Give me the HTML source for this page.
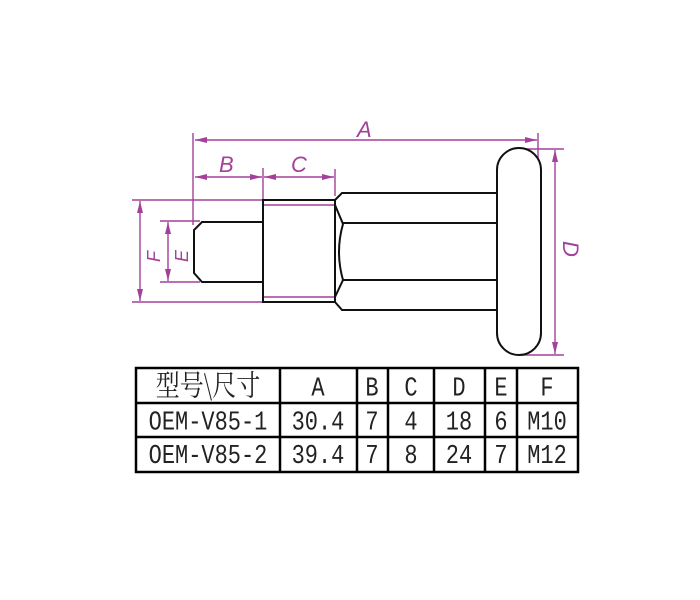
<!DOCTYPE html>
<html><head><meta charset="utf-8"><style>
html,body{margin:0;padding:0;background:#fff;}
svg{display:block;}
</style></head><body>
<svg width="700" height="600" viewBox="0 0 700 600" xmlns="http://www.w3.org/2000/svg">
<defs>
<marker id="ar" markerWidth="12" markerHeight="6" refX="12" refY="3" orient="auto-start-reverse" markerUnits="userSpaceOnUse">
<path d="M0,0 L12,3 L0,6 Z" fill="#a3409a"/>
</marker>
</defs>
<g stroke="#a3409a" stroke-width="1.4" fill="none">
<line x1="193" y1="133" x2="193" y2="225"/>
<line x1="538" y1="133" x2="538" y2="170"/>
<line x1="195" y1="140" x2="537" y2="140" marker-start="url(#ar)" marker-end="url(#ar)"/>
<line x1="263" y1="168" x2="263" y2="300"/>
<line x1="335" y1="169" x2="335" y2="196"/>
<line x1="195" y1="177" x2="262" y2="177" marker-start="url(#ar)" marker-end="url(#ar)"/>
<line x1="264" y1="177" x2="334" y2="177" marker-start="url(#ar)" marker-end="url(#ar)"/>
<line x1="132" y1="200" x2="262" y2="200"/>
<line x1="132" y1="302" x2="262" y2="302"/>
<line x1="140" y1="201" x2="140" y2="301" marker-start="url(#ar)" marker-end="url(#ar)"/>
<line x1="160" y1="221" x2="200" y2="221"/>
<line x1="160" y1="282" x2="200" y2="282"/>
<line x1="168" y1="222" x2="168" y2="281" marker-start="url(#ar)" marker-end="url(#ar)"/>
<line x1="520" y1="149" x2="564" y2="149"/>
<line x1="520" y1="355" x2="564" y2="355"/>
<line x1="555" y1="150" x2="555" y2="354" marker-start="url(#ar)" marker-end="url(#ar)"/>
<line x1="263" y1="205" x2="335" y2="205"/>
<line x1="263" y1="297" x2="335" y2="297"/>
</g>
<g fill="#a3409a" font-family="Liberation Sans, sans-serif" font-style="italic" font-size="22">
<text x="357" y="137">A</text>
<text x="219" y="172">B</text>
<text x="291" y="172">C</text>
<text transform="translate(563,241) rotate(90)">D</text>
<text transform="translate(160,262) rotate(-90)" font-size="18">F</text>
<text transform="translate(188,262) rotate(-90)" font-size="18">E</text>
</g>
<g stroke="#111" stroke-width="2" fill="none">
<path d="M263,222 L202,222 L194,230 L194,273 L202,282 L263,282"/>
<rect x="263" y="200" width="72" height="102"/>
<path d="M335,200 L342,193 L497,193"/>
<path d="M335,302 L342,310 L497,310"/>
<line x1="342" y1="223" x2="497" y2="223"/>
<line x1="342" y1="280" x2="497" y2="280"/>
<path d="M335,205 L343,224 Q335,252 343,280 L335,297"/>
<rect x="497" y="148" width="44" height="207" rx="22" ry="22" fill="#fff"/>
</g>
<g stroke="#000" stroke-width="2.5" fill="none">
<rect x="136" y="368" width="442" height="104"/>
<line x1="136" y1="403" x2="578" y2="403"/>
<line x1="136" y1="437" x2="578" y2="437"/>
<line x1="280" y1="368" x2="280" y2="472"/>
<line x1="357" y1="368" x2="357" y2="472"/>
<line x1="388" y1="368" x2="388" y2="472"/>
<line x1="434" y1="368" x2="434" y2="472"/>
<line x1="485" y1="368" x2="485" y2="472"/>
<line x1="517" y1="368" x2="517" y2="472"/>
</g>
<g fill="#222" font-family="Liberation Mono, Noto Serif CJK SC, monospace" font-size="22" text-anchor="middle" transform="scale(1,1.2)">
<text x="208" y="329.5" font-family="Noto Serif CJK SC, serif" font-size="24">型号\尺寸</text>
<text x="318" y="329.5">A</text>
<text x="372" y="329.5">B</text>
<text x="411" y="329.5">C</text>
<text x="459" y="329.5">D</text>
<text x="501" y="329.5">E</text>
<text x="547" y="329.5">F</text>
<text x="208" y="358">OEM-V85-1</text>
<text x="318" y="358">30.4</text>
<text x="372" y="358">7</text>
<text x="411" y="358">4</text>
<text x="459" y="358">18</text>
<text x="501" y="358">6</text>
<text x="547" y="358">M10</text>
<text x="208" y="386">OEM-V85-2</text>
<text x="318" y="386">39.4</text>
<text x="372" y="386">7</text>
<text x="411" y="386">8</text>
<text x="459" y="386">24</text>
<text x="501" y="386">7</text>
<text x="547" y="386">M12</text>
</g>
</svg>
</body></html>
